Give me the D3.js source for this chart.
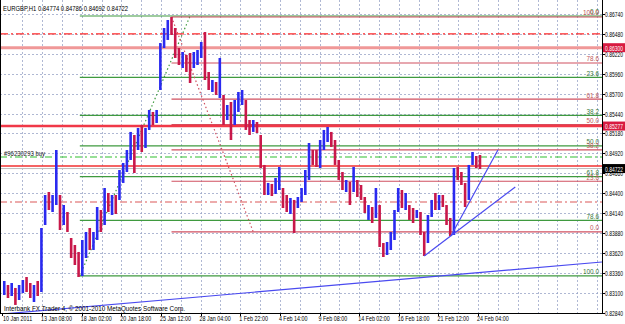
<!DOCTYPE html>
<html>
<head>
<meta charset="utf-8">
<script src="https://cdn.jsdelivr.net/npm/d3@7"></script>
<style>
  body { margin: 0; background: #fff; }
  svg { display: block; font-family: "Liberation Sans", Arial, sans-serif; }
</style>
</head>
<body>
<svg id="chart" width="625" height="324"></svg>
<script>
const title = "EURGBP,H1  0.84774 0.84786 0.84692 0.84722";
const copyright = "Interbank FX Trader 4, \u00a9 2001-2010 MetaQuotes Software Corp.";
const orderLabel = "#96230293 buy";

// one entry = 6 hourly bars
const hoursPerBar = 6;
const highs = [0.83254,0.83202,0.83228,0.83163,0.83202,0.83267,0.83306,0.83228,0.83202,0.83254,
  0.83946,0.84377,0.84416,0.84377,0.84964,0.84377,0.84246,0.84155,0.83815,0.83724,
  0.83633,0.83789,0.83894,0.83946,0.83894,0.84220,0.84181,0.84468,0.84403,0.84377,
  0.84377,0.84703,0.84795,0.84964,0.85200,0.85160,0.85252,0.85291,0.85252,0.85487,
  0.85461,0.85487,0.86361,0.86557,0.86662,0.86701,0.86557,0.86296,0.86244,0.86205,
  0.86231,0.86244,0.86270,0.86375,0.86505,0.85983,0.85878,0.85852,0.86166,0.85683,
  0.85552,0.85591,0.85617,0.85722,0.85748,0.85617,0.85356,0.85356,0.85330,0.85160,
  0.84769,0.84534,0.84521,0.84599,0.84743,0.84468,0.84377,0.84338,0.84312,0.84351,
  0.84468,0.84703,0.85056,0.84964,0.84964,0.85095,0.85226,0.85265,0.85200,0.85095,
  0.84834,0.84677,0.84573,0.84547,0.84743,0.84573,0.84507,0.84351,0.84246,0.84220,
  0.84468,0.84246,0.83750,0.83763,0.83894,0.84181,0.84468,0.84442,0.84403,0.84246,
  0.84207,0.84181,0.84155,0.83894,0.84116,0.84312,0.84403,0.84377,0.84377,0.84246,
  0.84077,0.84729,0.84743,0.84677,0.84534,0.84769,0.84938,0.84886,0.84899];
const lows = [0.83071,0.83032,0.83058,0.82941,0.83006,0.83097,0.83110,0.83032,0.82980,0.83058,
  0.83110,0.83985,0.84181,0.84155,0.84246,0.83920,0.83985,0.83894,0.83554,0.83463,
  0.83306,0.83319,0.83554,0.83659,0.83659,0.83789,0.83894,0.83985,0.84155,0.84116,
  0.84129,0.84312,0.84534,0.84677,0.84834,0.84664,0.84964,0.84938,0.84991,0.85226,
  0.85291,0.85317,0.85748,0.86296,0.86401,0.86466,0.86166,0.86074,0.86035,0.85983,
  0.85839,0.86035,0.86074,0.86166,0.85878,0.85748,0.85722,0.85683,0.85643,0.85291,
  0.85356,0.85095,0.85291,0.85461,0.85552,0.85226,0.85160,0.85200,0.85186,0.84729,
  0.84377,0.84377,0.84364,0.84390,0.84442,0.84207,0.84155,0.84129,0.83881,0.84207,
  0.84286,0.84377,0.84573,0.84769,0.84743,0.84729,0.84964,0.85069,0.85004,0.84769,
  0.84573,0.84442,0.84416,0.84246,0.84416,0.84351,0.84312,0.84142,0.84051,0.84011,
  0.84077,0.83698,0.83567,0.83593,0.83659,0.83789,0.84155,0.84207,0.84181,0.84051,
  0.84011,0.84077,0.83855,0.83580,0.83750,0.84090,0.84181,0.84181,0.84220,0.83985,
  0.83842,0.83855,0.84573,0.84507,0.84220,0.84312,0.84769,0.84729,0.84716];
const ups = [1,0,1,0,1,1,0,0,1,0, 1,1,0,1,1,0,1,0,0,0, 0,1,1,0,1,1,0,1,0,1,
  0,1,1,1,1,0,1,0,1,1, 0,1,1,1,1,0,0,0,1,0, 0,1,1,1,0,0,1,0,1,0,
  1,0,1,1,1,0,0,1,0,0, 0,1,0,1,1,0,0,1,0,1, 1,1,1,0,0,1,1,1,0,0,
  0,0,1,0,1,0,0,0,1,0, 1,0,0,1,1,1,1,0,1,0, 0,1,0,0,1,1,0,1,0,0,
  0,1,0,0,0,1,1,0,0];

const timeLabels = ["10 Jan 2011","13 Jan 08:00","18 Jan 02:00","20 Jan 18:00","25 Jan 12:00",
  "28 Jan 04:00","1 Feb 22:00","4 Feb 14:00","9 Feb 08:00","14 Feb 02:00","16 Feb 18:00",
  "21 Feb 12:00","24 Feb 04:00"];
const priceTicks = [0.86740,0.86480,0.86220,0.85960,0.85700,0.85440,0.85180,0.84920,
  0.84660,0.84400,0.84140,0.83880,0.83620,0.83360,0.83100,0.82840];

// fibo: [point1, point2] as [hour bar, price]
const fiboLevels = [0, 23.6, 38.2, 50, 61.8, 78.6, 100];
const greenFibo = [[125, 0.83320], [303, 0.86714]];
const redFibo = [[273, 0.86701], [405, 0.83894]];

// full-width horizontal lines
const levelPrices = [0.86480, 0.86300, 0.85277, 0.84873, 0.84756, 0.84722, 0.84286];
const markedPrices = [0.86300, 0.85277, 0.84722];

// blue trend lines
const trendLines = [
  [[0, 0.82823], [968, 0.83502]],
  [[681, 0.83580], [828, 0.84481]],
  [[724, 0.83842], [800, 0.84964]]
];

const svg = d3.select("#chart");
const W = 602, H = 313;

const x = d3.scaleLinear().domain([0, 968]).range([2.4, W]);
const y = d3.scaleLinear().domain([0.82840, 0.86740]).range([312.7, 14]);

svg.append("defs").append("clipPath").attr("id", "clip")
  .append("rect").attr("width", W).attr("height", H);

const squeezeText = (sel, f) => {
  sel.each(function () {
    const w = this.getComputedTextLength();
    d3.select(this).attr("textLength", w * f).attr("lengthAdjust", "spacingAndGlyphs");
  });
};

// grid
const grid = svg.append("g").attr("stroke", "#9aa6c8").attr("stroke-dasharray", "2,2")
  .attr("stroke-width", 0.8);
grid.selectAll(".gx").data(d3.range(32, 968, 32)).enter().append("line")
  .attr("x1", d => Math.round(x(d)) + 0.5).attr("x2", d => Math.round(x(d)) + 0.5)
  .attr("y1", 0).attr("y2", H);
grid.selectAll(".gy").data(priceTicks).enter().append("line")
  .attr("x1", 0).attr("x2", W)
  .attr("y1", d => Math.round(y(d)) + 0.5).attr("y2", d => Math.round(y(d)) + 0.5);

const plot = svg.append("g").attr("clip-path", "url(#clip)");

// fibo levels
const drawFibo = (pts, color, textColor) => {
  const [p1, p2] = pts;
  const x0 = x(Math.min(p1[0], p2[0]));
  const lv = fiboLevels.map(l => ({ l, price: p2[1] + (p1[1] - p2[1]) * l / 100 }));
  plot.append("g").selectAll("line").data(lv).enter().append("line")
    .attr("x1", x0).attr("x2", W)
    .attr("y1", d => y(d.price)).attr("y2", d => y(d.price))
    .attr("stroke", color).attr("stroke-width", 1.2);
  plot.append("line")
    .attr("x1", x(p1[0])).attr("y1", y(p1[1]))
    .attr("x2", x(p2[0])).attr("y2", y(p2[1]))
    .attr("stroke", color).attr("stroke-width", 1.2).attr("stroke-dasharray", "1.5,2.5");
  svg.append("g").selectAll("text").data(lv).enter().append("text")
    .attr("x", 599).attr("y", d => y(d.price) - 1.5)
    .attr("text-anchor", "end").attr("font-size", 8).attr("fill", textColor)
    .text(d => d.l.toFixed(1))
    .call(squeezeText, 0.8);
};
drawFibo(greenFibo, "#3f9a3f", "#3a7a3a");
drawFibo(redFibo, "#d05060", "#c05858");

// horizontal lines
const lineStyles = [
  { c: "#ff2a2a", w: 1.3, d: "8,3,2,3" },
  { c: "#f09898", w: 3, d: null },
  { c: "#f03848", w: 2.5, d: null },
  { c: "#30c030", w: 1.1, d: "7,3,2,3" },
  { c: "#f03030", w: 1.5, d: null },
  { c: "#bcbcbc", w: 1, d: null },
  { c: "#e89090", w: 1.6, d: "7,3,2,3" }
];
plot.append("g").selectAll("line").data(levelPrices).enter().append("line")
  .attr("x1", 0).attr("x2", W)
  .attr("y1", d => y(d)).attr("y2", d => y(d))
  .attr("stroke", (d, i) => lineStyles[i].c)
  .attr("stroke-width", (d, i) => lineStyles[i].w)
  .attr("stroke-dasharray", (d, i) => lineStyles[i].d);

// price bars
plot.append("g").selectAll("line").data(highs).enter().append("line")
  .attr("x1", (d, i) => x(i * hoursPerBar + 3)).attr("x2", (d, i) => x(i * hoursPerBar + 3))
  .attr("y1", d => y(d)).attr("y2", (d, i) => y(lows[i]))
  .attr("stroke", (d, i) => ups[i] ? "#2a2af0" : "#c8184a")
  .attr("stroke-width", 2.6);

// trend lines
plot.append("g").selectAll("line").data(trendLines).enter().append("line")
  .attr("x1", d => x(d[0][0])).attr("y1", d => y(d[0][1]))
  .attr("x2", d => x(d[1][0])).attr("y2", d => y(d[1][1]))
  .attr("stroke", "#4a4af0").attr("stroke-width", 1.2);

// frame
svg.append("line").attr("x1", W + 0.5).attr("x2", W + 0.5).attr("y1", 0).attr("y2", H + 1)
  .attr("stroke", "#000");
svg.append("line").attr("x1", 0).attr("x2", W + 1).attr("y1", H + 0.5).attr("y2", H + 0.5)
  .attr("stroke", "#000");
svg.append("line").attr("x1", 0.5).attr("x2", 0.5).attr("y1", 0).attr("y2", H)
  .attr("stroke", "#000");

// price axis
const pAxis = svg.append("g");
pAxis.selectAll("line").data(priceTicks).enter().append("line")
  .attr("x1", W).attr("x2", W + 3)
  .attr("y1", d => Math.round(y(d)) + 0.5).attr("y2", d => Math.round(y(d)) + 0.5)
  .attr("stroke", "#000");
pAxis.selectAll("text").data(priceTicks).enter().append("text")
  .attr("x", 605).attr("y", d => y(d) + 3)
  .attr("font-size", 8).attr("fill", "#000")
  .text(d => d.toFixed(5))
  .call(squeezeText, 0.62);

const marks = svg.append("g").selectAll("g").data(markedPrices).enter().append("g");
marks.append("rect")
  .attr("x", 603).attr("y", d => y(d) - 4.5).attr("width", 22).attr("height", 9)
  .attr("fill", (d, i) => i === 2 ? "#000" : "#d81a40");
marks.append("text")
  .attr("x", 605).attr("y", d => y(d) + 3)
  .attr("font-size", 8).attr("fill", "#fff")
  .text(d => d.toFixed(5))
  .call(squeezeText, 0.62);

// time axis
const tAxis = svg.append("g");
tAxis.selectAll("line").data(timeLabels).enter().append("line")
  .attr("x1", (d, i) => Math.round(x(i * 64)) + 0.5).attr("x2", (d, i) => Math.round(x(i * 64)) + 0.5)
  .attr("y1", H).attr("y2", H + 3).attr("stroke", "#000");
tAxis.selectAll("text").data(timeLabels).enter().append("text")
  .attr("x", (d, i) => i === 0 ? 3 : x(i * 64) - 1).attr("y", 321)
  .attr("font-size", 8).attr("fill", "#000")
  .text(d => d)
  .call(squeezeText, 0.67);

// texts
svg.append("text").attr("x", 3).attr("y", 11).attr("font-size", 8)
  .attr("textLength", 125).attr("lengthAdjust", "spacingAndGlyphs").text(title);
svg.append("text").attr("x", 4).attr("y", 311).attr("font-size", 8)
  .attr("textLength", 181).attr("lengthAdjust", "spacingAndGlyphs").text(copyright);
svg.append("text").attr("x", 4).attr("y", 156).attr("font-size", 8).attr("fill", "#222")
  .attr("textLength", 41).attr("lengthAdjust", "spacingAndGlyphs").text(orderLabel);
</script>
</body>
</html>
